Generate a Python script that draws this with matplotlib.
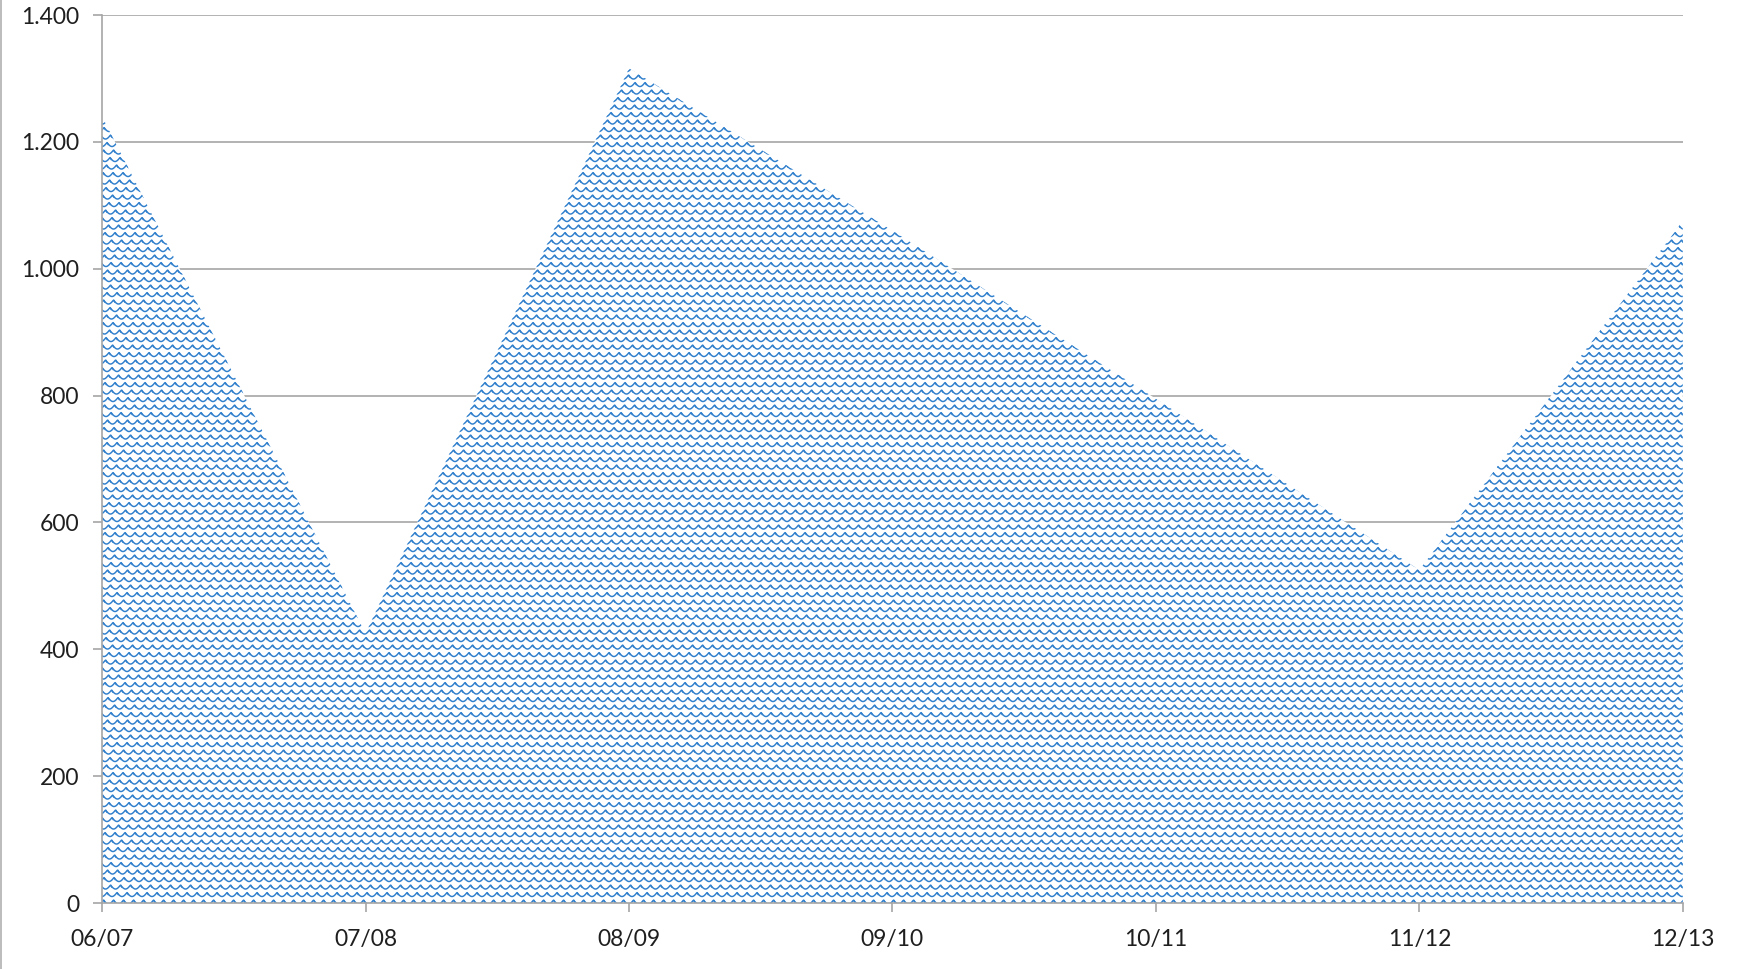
import numpy as np
import matplotlib
matplotlib.use("Agg")
import matplotlib.pyplot as plt
from matplotlib.collections import LineCollection
from matplotlib.patches import Polygon
from matplotlib.transforms import IdentityTransform
from matplotlib.ticker import FuncFormatter, MultipleLocator
from matplotlib.lines import Line2D

seasons = ["06/07", "07/08", "08/09", "09/10", "10/11", "11/12", "12/13"]
values = [1240, 425, 1316, 1060, 795, 525, 1075]

plt.rcParams["font.family"] = ["Lato", "DejaVu Sans"]

fig = plt.figure(figsize=(17.42, 9.69), dpi=100)
fig.patch.set_facecolor("white")
ax = fig.add_axes([0.0586, 0.0681, 0.9074, 0.9164])

x = np.arange(len(seasons))
verts = list(zip(x, values)) + [(x[-1], 0), (x[0], 0)]
area = Polygon(verts, closed=True, facecolor="white", edgecolor="none", zorder=2)
ax.add_patch(area)

ax.set_xlim(0, len(seasons) - 1)
ax.set_ylim(0, 1400)
ax.set_xticks(x)
ax.set_xticklabels(seasons)
ax.yaxis.set_major_locator(MultipleLocator(200))
ax.yaxis.set_major_formatter(FuncFormatter(lambda v, _: f"{int(v):,}".replace(",", ".")))

grid_c = "#a6a6a6"
ax.grid(axis="y", color=grid_c, linewidth=1.2, zorder=0)
ax.set_axisbelow(True)
for side in ("top", "right"):
    ax.spines[side].set_visible(False)
for side in ("left", "bottom"):
    ax.spines[side].set_color(grid_c)
    ax.spines[side].set_linewidth(1.2)
    ax.spines[side].set_zorder(4)
ax.tick_params(axis="both", color=grid_c, length=6.5, width=1.2,
               labelsize=16.5, labelcolor="#1f1f1f")
ax.tick_params(axis="y", pad=10)
ax.tick_params(axis="x", pad=12.5)

# shingle-like pattern drawn in pixel space and clipped to the area
bb = ax.bbox
P, H, A, shift = 10.0, 7.5, 4.0, 3.5
xs = np.arange(bb.x0 - P, bb.x1 + P, 0.5)
segs = []
yrow = bb.y1 + H
j = 0
while yrow > bb.y0 - H:
    t = ((xs + j * shift) / P) % 1.0
    ys = yrow - A * np.sin(np.pi * t)
    segs.append(np.column_stack([xs, ys]))
    # short hook strokes linking each scallop joint to the row below
    k0 = np.floor((bb.x0 - P + j * shift) / P)
    k1 = np.ceil((bb.x1 + P + j * shift) / P)
    for k in np.arange(k0, k1 + 1):
        xj = k * P - j * shift
        segs.append(np.array([[xj, yrow], [xj + 1.6, yrow - 2.6]]))
    yrow -= H
    j += 1
lc = LineCollection(segs, colors="#2f7fcc", linewidths=1.05,
                    transform=IdentityTransform(), zorder=3)
ax.add_collection(lc, autolim=False)
lc.set_clip_path(area)

# thin frame line at the left edge
fig.add_artist(Line2D([0.0006, 0.0006], [0, 1], transform=fig.transFigure,
                      color="#b0b0b0", linewidth=1.2))

fig.savefig("out.png", dpi=100)
